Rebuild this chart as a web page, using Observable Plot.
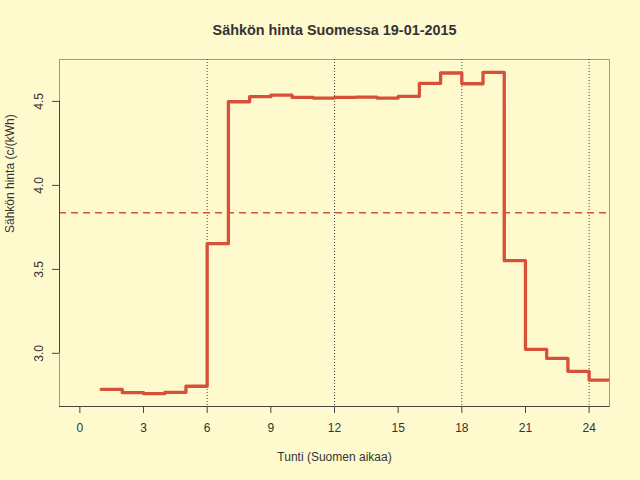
<!DOCTYPE html>
<html>
<head>
<meta charset="utf-8">
<script src="https://cdn.jsdelivr.net/npm/d3@7"></script>
<script src="https://cdn.jsdelivr.net/npm/@observablehq/plot@0.6"></script>
<style>
  html, body { margin: 0; padding: 0; background: #FFFACD; }
  svg { display: block; }
</style>
</head>
<body>
<div id="chart"></div>
<script>
// Hour (start of hour) and price c/kWh
const hours = [1, 2, 3, 4, 5, 6, 7, 8, 9, 10, 11, 12, 13, 14, 15, 16, 17, 18, 19, 20, 21, 22, 23, 24, 25];
const prices = [2.786, 2.766, 2.760, 2.768, 2.804, 3.653, 4.498, 4.528, 4.538, 4.524, 4.520, 4.524,
                4.526, 4.520, 4.530, 4.607, 4.669, 4.605, 4.673, 3.552, 3.024, 2.970, 2.893, 2.841, 2.841];
const xTicks = [0, 3, 6, 9, 12, 15, 18, 21, 24];
const yTicks = [3.0, 3.5, 4.0, 4.5];
const gridHours = [6, 12, 18, 24];

const title = "Sähkön hinta Suomessa 19-01-2015";
const xLabel = "Tunti (Suomen aikaa)";
const yLabel = "Sähkön hinta (c/(kWh)";

const data = hours.map((h, i) => ({hour: h, price: prices[i]}));
const meanPrice = d3.mean(prices.slice(0, 24));

const xMin = 0, xMax = 24;
const yMin = d3.min(prices), yMax = d3.max(prices);
const xPad = (xMax - xMin) * 0.04, yPad = (yMax - yMin) * 0.04;

const lineColor = "#D6503A";
const ink = "#333333";

const chart = Plot.plot({
  width: 640,
  height: 480,
  marginLeft: 59,
  marginRight: 31,
  marginTop: 59,
  marginBottom: 74,
  style: {background: "#FFFACD", fontFamily: "'Liberation Sans', Arial, sans-serif", fontSize: "12px", color: ink},
  x: {domain: [xMin - xPad, xMax + xPad]},
  y: {domain: [yMin - yPad, yMax + yPad]},
  marks: [
    Plot.frame({stroke: "#999999", strokeWidth: 1}),
    Plot.ruleX(gridHours, {stroke: "#444", strokeWidth: 1, strokeDasharray: "1,2"}),
    Plot.ruleY([meanPrice], {stroke: lineColor, strokeWidth: 1.6, strokeDasharray: "7,5"}),
    Plot.line(data, {x: "hour", y: "price", curve: "step-after", stroke: lineColor, strokeWidth: 3.3, strokeLinecap: "round", clip: true}),
    Plot.ruleY([yMin - yPad], {stroke: "#444", strokeWidth: 1}),
    Plot.ruleX([xMin - xPad], {y1: yTicks[0], y2: yTicks[yTicks.length - 1], stroke: "#444", strokeWidth: 1}),
    Plot.axisX({ticks: xTicks, tickSize: 7, tickPadding: 10, stroke: "#444", label: null, fill: ink, fontSize: 12}),
    Plot.axisY({ticks: yTicks, tickSize: 7, tickFormat: () => "", stroke: "#444", label: null}),
    Plot.text(yTicks, {y: d => d, text: d => d3.format(".1f")(d), frameAnchor: "left", dx: -20, rotate: -90, textAnchor: "middle", lineAnchor: "middle", fill: ink, fontSize: 12}),
    Plot.text([title], {frameAnchor: "top", dy: -29, fontWeight: "bold", fontSize: 14.4, fill: ink, lineAnchor: "middle"}),
    Plot.text([xLabel], {frameAnchor: "bottom", dy: 51, fontSize: 12, fill: ink, lineAnchor: "middle"}),
    Plot.text([yLabel], {frameAnchor: "left", dx: -49, rotate: -90, fontSize: 12, fill: ink, lineAnchor: "middle"})
  ]
});
document.getElementById("chart").appendChild(chart);
</script>
</body>
</html>
